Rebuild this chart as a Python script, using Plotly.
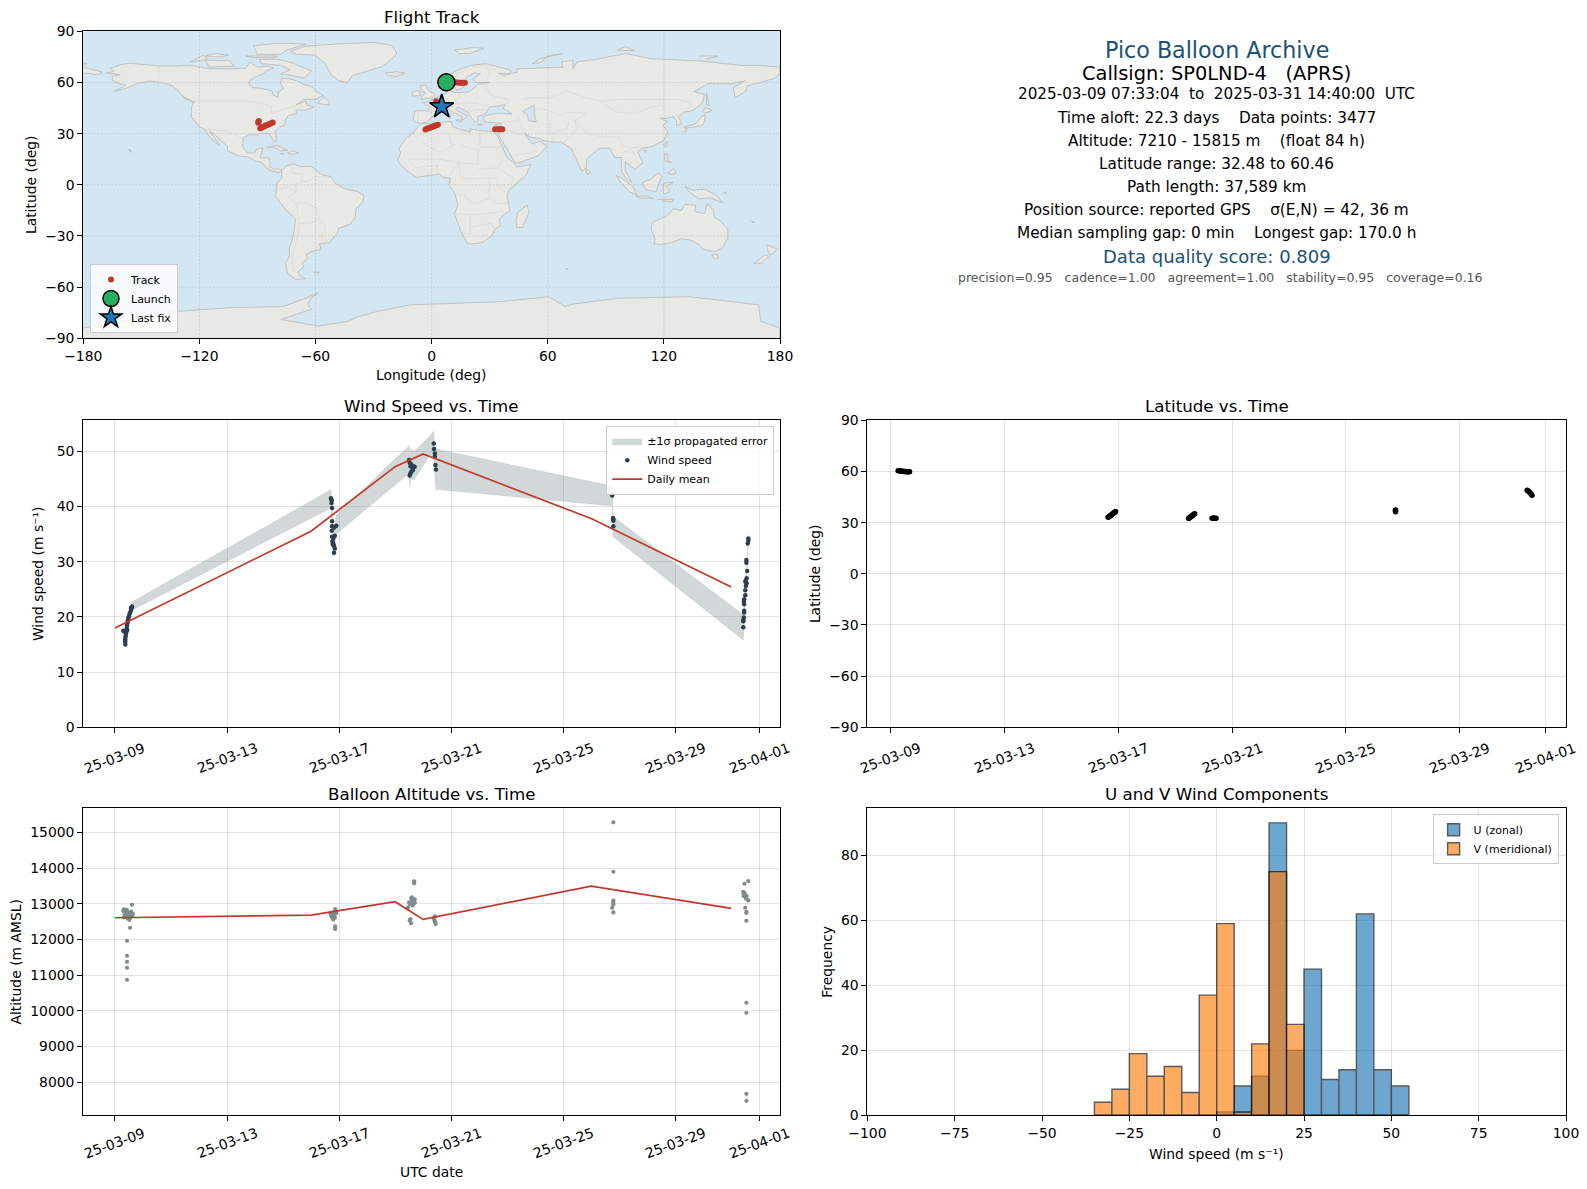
import pandas as pd
import plotly.graph_objects as go

# window size, the page body keeps its default 8px margin
W, H = 1587, 1189
PAGE_MARGIN = 8
FIG_W, FIG_H = W - PAGE_MARGIN, H - 2 * PAGE_MARGIN
FONT = "DejaVu Sans"
T0 = pd.Timestamp("2025-03-09")

# --- text panel: text, font size, colour, page y, x shift from the column centre ---
header_lines = [
    ("Pico Balloon Archive", 22.2, "#1a5276", 50, 0),
    ("Callsign: SP0LND-4   (APRS)", 19.4, "black", 73.3, 0),
    ("2025-03-09 07:33:04  to  2025-03-31 14:40:00  UTC", 15.2, "black", 94, 0),
    ("Time aloft: 22.3 days    Data points: 3477", 15.3, "black", 117.8, 0),
    ("Altitude: 7210 - 15815 m    (float 84 h)", 15.3, "black", 140.8, 0),
    ("Latitude range: 32.48 to 60.46", 15.3, "black", 163.8, 0),
    ("Path length: 37,589 km", 15.3, "black", 186.8, 0),
    ("Position source: reported GPS    σ(E,N) = 42, 36 m", 15.3, "black", 209.8, 0),
    ("Median sampling gap: 0 min    Longest gap: 170.0 h", 15.3, "black", 232.8, 0),
    ("Data quality score: 0.809", 18, "#1a5276", 256.7, 0),
    ("precision=0.95   cadence=1.00   agreement=1.00   stability=0.95   coverage=0.16", 12.5, "#555555", 278, 4),
]

# --- track, day offsets from 2025-03-09 00:00 UTC ---
track_days = [0.28, 0.32, 0.36, 0.40, 0.44, 0.48, 0.52, 0.56, 0.60, 0.64, 0.68,
              7.65, 7.68, 7.70, 7.73, 7.75, 7.78, 7.80, 7.83, 7.86, 7.88, 7.91,
              10.48, 10.50, 10.53, 10.55, 10.58, 10.60, 10.63, 10.66, 10.69,
              11.30, 11.33, 11.36, 11.40, 11.44,
              17.74, 17.74, 17.74,
              22.36, 22.40, 22.44, 22.47, 22.50, 22.53]
track_lat = [60.46, 60.4, 60.3, 60.2, 60.1, 60.0, 59.95, 59.9, 59.9, 59.85, 59.85,
             33.2, 33.5, 33.8, 34.1, 34.4, 34.7, 35.0, 35.4, 35.8, 36.1, 36.5,
             32.48, 32.8, 33.1, 33.4, 33.8, 34.1, 34.5, 34.9, 35.2,
             32.5, 32.55, 32.55, 32.5, 32.5,
             36.4, 36.9, 37.4,
             49.0, 48.5, 48.0, 47.4, 46.8, 46.0]
track_lon = [7.6, 8.5, 9.5, 10.5, 11.5, 12.5, 13.5, 14.5, 15.5, 16.4, 17.2,
             -88.6, -88.0, -87.5, -87.0, -86.3, -85.7, -85.0, -84.3, -83.5, -82.8, -82.1,
             -3.2, -2.5, -1.7, -1.0, -0.2, 0.6, 1.4, 2.3, 3.2,
             32.8, 33.7, 34.7, 35.6, 36.5,
             -89.6, -89.5, -89.3,
             2.3, 2.7, 3.2, 3.8, 4.5, 5.2]
launch_lon, launch_lat = [7.6], [60.1]
last_lon, last_lat = [5.2], [45.8]

# --- wind speed ---
wind_days = [0.37, 0.37, 0.37, 0.36, 0.38, 0.39, 0.30, 0.33, 0.36, 0.41, 0.44, 0.42, 0.43, 0.45,
             0.46, 0.48, 0.50, 0.52, 0.55, 0.58, 0.60, 0.61, 0.57,
             7.71, 7.74, 7.73, 7.75, 7.75, 7.90, 7.75, 7.83, 7.74, 7.85, 7.75, 7.79, 7.76, 7.79, 7.82, 7.78, 7.85, 7.82,
             10.50, 10.52, 10.58, 10.64, 10.70, 10.64, 10.58, 10.55, 10.52, 10.62, 10.55,
             11.38, 11.39, 11.42, 11.42, 11.44, 11.46,
             17.75, 17.79, 17.79, 17.79, 17.78,
             22.61, 22.61, 22.59, 22.54, 22.54, 22.57, 22.55, 22.52, 22.50, 22.55, 22.52, 22.50, 22.50, 22.46,
             22.45, 22.46, 22.46, 22.46, 22.45, 22.43, 22.43, 22.43]
wind_speed = [15.0, 15.5, 16.0, 15.8, 16.5, 16.9, 17.5, 17.4, 17.3, 17.3, 17.6, 18.0, 18.5, 19.0,
              19.4, 19.8, 20.1, 20.5, 20.9, 21.3, 21.7, 21.9, 21.6,
              41.5, 41.1, 40.6, 39.7, 37.3, 36.5, 36.4, 36.2, 35.6, 34.7, 34.5, 34.2, 33.6, 33.3, 32.9, 33.1, 32.4, 31.6,
              48.4, 47.9, 47.6, 47.3, 47.2, 46.6, 46.3, 46.0, 45.6, 47.0, 47.3,
              51.4, 50.4, 49.6, 49.0, 47.5, 46.7,
              42.0, 37.7, 37.4, 36.4, 37.9,
              34.2, 33.8, 33.3, 30.3, 29.8, 28.3, 27.0, 26.5, 26.4, 26.1, 25.6, 24.8, 23.9, 23.2,
              22.8, 22.3, 21.1, 20.8, 19.9, 19.4, 19.2, 18.1]
band_days = [0.37, 0.45, 0.60, 7.71, 7.76, 7.80, 7.84, 7.90, 10.50, 10.53, 10.56, 10.68, 11.24, 11.38, 11.42, 11.45,
             17.76, 17.78, 22.43, 22.47, 22.55, 22.62]
band_upper = [16.0, 19.5, 22.7, 43.0, 40.0, 34.0, 36.0, 38.5, 51.0, 49.0, 50.5, 50.0, 52.7, 53.6, 51.0, 50.4,
              43.7, 38.2, 20.4, 22.0, 29.0, 34.8]
band_lower = [14.3, 17.5, 21.2, 39.7, 37.0, 31.0, 31.5, 35.0, 46.0, 43.4, 45.0, 44.8, 49.3, 49.0, 46.0, 43.1,
              40.1, 34.5, 15.8, 20.0, 27.0, 33.0]
mean_days = [0, 7, 10, 11, 17, 22]
wind_mean = [18.0, 35.5, 47.2, 49.5, 37.8, 25.4]

# --- altitude ---
alt_days = [0.61, 0.54, 0.43, 0.43, 0.43, 0.43, 0.43,
            0.32, 0.38, 0.35, 0.43, 0.46, 0.52, 0.60, 0.64, 0.35, 0.40, 0.50, 0.55, 0.46, 0.52, 0.32, 0.58,
            0.30, 0.34, 0.37, 0.41, 0.44, 0.48, 0.50, 0.54, 0.57, 0.62, 0.39, 0.43, 0.47, 0.36, 0.42,
            7.86, 7.88, 7.79, 7.73, 7.69, 7.81, 7.85, 7.76, 7.90, 7.79, 7.86, 7.86,
            7.72, 7.75, 7.78, 7.83,
            10.68, 10.68, 10.58, 10.64, 10.70, 10.52, 10.46, 10.62, 10.70, 10.50, 10.55, 10.52, 10.57,
            10.60, 10.66, 10.56, 10.64, 10.61, 10.68,
            11.42, 11.38, 11.41, 11.45, 11.43, 11.40,
            17.79, 17.79, 17.79, 17.79, 17.79, 17.75, 17.79,
            22.61, 22.47, 22.43, 22.45, 22.49, 22.55, 22.52, 22.61, 22.47, 22.50, 22.54, 22.50, 22.54,
            22.44, 22.46, 22.48, 22.51, 22.53, 22.44,
            22.54, 22.54, 22.54, 22.54, 22.54]
altitude = [12972, 12328, 11964, 11544, 11375, 11207, 10871,
            12842, 12823, 12777, 12796, 12750, 12730, 12702, 12720, 12702, 12684, 12600, 12605, 12580, 12550, 12620, 12777,
            12800, 12760, 12740, 12720, 12690, 12670, 12740, 12680, 12640, 12660, 12650, 12620, 12640, 12810, 12830,
            12850, 12785, 12710, 12692, 12730, 12645, 12610, 12675, 12730, 12560, 12365, 12290,
            12660, 12620, 12760, 12700,
            13630, 13570, 13155, 13100, 13035, 12990, 12895, 12950, 13120, 13040, 12570, 12530, 12455,
            13180, 13060, 13000, 12970, 13090, 13010,
            12645, 12580, 12525, 12430, 12480, 12600,
            15278, 13896, 13090, 13035, 12980, 12888, 12757,
            13635, 13560, 13336, 13280, 13233, 13215, 13170, 13093, 13260, 13200, 12776, 12888, 12742,
            13310, 13250, 13290, 13190, 13140, 13220,
            12524, 10227, 9947, 7678, 7482]
alt_mean = [12608, 12683, 13056, 12561, 13495, 12869]

# --- histogram, 5 m/s bins ---
bin_left = [-35, -30, -25, -20, -15, -10, -5, 0, 5, 10, 15, 20, 25, 30, 35, 40, 45, 50]
u_counts = [0, 0, 0, 0, 0, 0, 0, 1, 9, 12, 90, 20, 45, 11, 14, 62, 14, 9]
v_counts = [4, 8, 19, 12, 15, 7, 37, 59, 1, 22, 75, 28, 0, 0, 0, 0, 0, 0]

# --- ticks ---
date_ticks = ["2025-03-09", "2025-03-13", "2025-03-17", "2025-03-21", "2025-03-25", "2025-03-29", "2025-04-01"]
date_labels = ["25-03-09", "25-03-13", "25-03-17", "25-03-21", "25-03-25", "25-03-29", "25-04-01"]
lon_ticks = [-180, -120, -60, 0, 60, 120, 180]
lat_ticks = [-90, -60, -30, 0, 30, 60, 90]
wind_ticks = [0, 10, 20, 30, 40, 50]
alt_ticks = [8000, 9000, 10000, 11000, 12000, 13000, 14000, 15000]
hist_ticks = [-100, -75, -50, -25, 0, 25, 50, 75, 100]
freq_ticks = [0, 20, 40, 60, 80]

# --- basemap outlines (lon, lat) ---
north_america = [(-168,65.6),(-164,66.5),(-166,68.3),(-161,70.3),(-156.5,71.3),(-150,70.5),(-141,69.7),(-135,69.5),(-128,70),(-124,69.8),(-115,68),(-108,68),(-102,68),(-96,68.3),(-94,72),(-90,69),(-85,69.5),(-81.5,68.5),(-86,66.5),(-87,65),(-91,63.5),(-94,61),(-94.5,59),(-92.5,57),(-88,56.5),(-82.5,55),(-82,52.8),(-79.5,51.3),(-79,54.5),(-76.5,56.5),(-78,59),(-77.5,62.5),(-73,62),(-69.5,61),(-66,58.8),(-62,57.5),(-60,55),(-56,52.5),(-60,50.2),(-66,50),(-70,47),(-65,49),(-64.5,47),(-61,45.5),(-65.5,43.7),(-70,43.8),(-70,41.7),(-74,40.6),(-75.5,38),(-76,35),(-78.5,33.8),(-81,31.5),(-80.2,27),(-80.3,25.3),(-81.8,26),(-82.8,28),(-84,30),(-88,30.3),(-90,29.2),(-94,29.5),(-97.3,27.5),(-97.7,22.5),(-95.5,18.8),(-91.5,18.6),(-90.5,21),(-87,21.5),(-88,17.5),(-88.7,15.8),(-84,15.8),(-83.5,12),(-83.7,10.5),(-81.5,9),(-79.5,9.5),(-77.5,8.7),(-77.5,7.5),(-80,7.3),(-83,8.2),(-85.7,10),(-87.5,13),(-91.5,14),(-94.5,16.2),(-100,17),(-105.5,20),(-105.5,22.5),(-109,26),(-112.7,30),(-114.7,31.5),(-112.2,27.5),(-109.5,23),(-112,25),(-115,28.5),(-117.2,32.5),(-120.5,34.5),(-122.5,37.5),(-124.3,40.3),(-124,46),(-122.7,48.5),(-127.5,51),(-130.5,54.5),(-134,58),(-140,60),(-146,60.8),(-152,59.3),(-158,56.5),(-164,54.8),(-158,58.5),(-162,59.5),(-165,61.5),(-165,63.5),(-161,64.5),(-168,65.6)]
greenland = [(-73,78.3),(-65,81.3),(-50,82.5),(-30,83.5),(-20,81.5),(-18,76.5),(-22,72.5),(-25,69.5),(-35,66),(-41,64),(-43.5,60),(-48,61),(-52,64.5),(-53.5,68),(-55,71),(-60,76),(-70,76.5),(-73,78.3)]
south_america = [(-77.5,8.5),(-75,11),(-71.5,12.4),(-68,10.7),(-62,10.7),(-57,6),(-52,4.8),(-50,1),(-44.5,-2.5),(-38,-4),(-35,-6.5),(-35.5,-10),(-39,-14),(-39.5,-19),(-42,-23),(-48,-25.5),(-48.7,-28.5),(-53,-34),(-58,-34.5),(-57,-38),(-62,-39),(-65,-41),(-64,-43),(-67,-46),(-66,-48),(-69,-51),(-68.5,-53),(-65,-55),(-70,-55.5),(-74.5,-52),(-75.5,-46),(-73.5,-42),(-73.5,-37),(-71.5,-30),(-70.3,-20),(-76,-14),(-81,-6),(-80,-2.5),(-80,1),(-77.5,4),(-77.5,8.5)]
africa = [(-5.8,35.8),(0,35.8),(10,37.3),(11,34),(15,32.3),(20,31),(20,32.8),(25,31.7),(32,31.2),(34.3,28),(37,21),(39,16),(43.3,12),(44,10.5),(51.2,11.8),(49,6),(44,1),(40,-3),(39,-7),(40.5,-15),(35,-20),(35.5,-24),(32.8,-26),(31,-30),(26,-34),(20,-34.8),(18.3,-34),(15,-27),(11.8,-17),(13.5,-12),(12,-5),(9,-0.5),(9.7,3.8),(6,4.3),(4,6.3),(-4,5),(-8,4.4),(-13,8.5),(-16.7,12.5),(-17.4,14.7),(-16,19),(-17,21),(-13,27.7),(-9.8,30),(-6.8,34),(-5.8,35.8)]
eurasia = [(-9,37),(-9.5,38.8),(-8.8,43.3),(-1.7,43.4),(-1.2,46),(-4.7,48.3),(-1.5,48.7),(1.5,50.5),(4,52),(8,54),(8.3,57),(10.5,57.5),(10,54.5),(14,54),(19,54.5),(21,56),(24,58.8),(30,60),(23,60),(21.3,62),(25.2,65),(22,65.7),(17.5,62.5),(18,60),(16.5,57),(13,55.5),(11,59),(7,58),(5,60),(5.5,62),(13,67),(20,70),(28,71),(41,67.2),(40,65),(34.5,65.5),(37,64),(44,66),(44,68),(54,68.5),(60,69),(68,69),(67,72),(73,73),(73,68),(75,72),(87,74),(100,77),(113,74),(127,73.3),(140,72.5),(160,70),(170,70),(180,69),(180,65),(177,62.5),(170,60),(163,58),(162.5,55),(156.8,51),(155.8,57),(162,61),(155,59.3),(143,59.3),(135.5,54.7),(141,53),(140,48),(135,43.5),(130,42.5),(127.5,39.8),(129.3,36),(126.5,34.5),(126.5,37.5),(125,40),(121.5,39),(118,39),(122,37),(119.5,35),(122,31),(120,26),(114,22.5),(109,21.5),(106.5,19.5),(109,13),(105,9),(100,13.5),(100,8),(103.5,1.5),(101,3),(98,8),(98,16),(94.5,16),(92,21.5),(87,21.5),(80.3,15.5),(79.8,10),(77.5,8),(73,19),(72.5,21),(67,25),(61.5,25.2),(57,26),(56.5,27),(51,28),(48,30),(51,25),(52,24),(56,25.5),(59.5,22.5),(55,17),(45,12.8),(43,13),(39,21),(35,28),(34.5,31.5),(36,36),(32,36.2),(27.5,36.8),(26.5,39.5),(29,41),(35,42),(41.5,41.5),(37,45),(38,47),(33.5,46),(30,45.5),(28,42),(26,40.7),(23.5,40),(24,37.8),(22.5,36.5),(19.5,41),(19,42.5),(13.5,45.5),(12.5,44),(18.5,40.2),(16,38),(15.8,40),(10.5,43),(8.5,44.3),(3,43),(3,41.8),(-0.3,39.5),(-2,36.8),(-5.5,36),(-9,37)]
chukotka = [(-180,69),(-175,67.5),(-170,66),(-173,64.5),(-178,65.5),(-180,65)]
australia = [(114,-22),(113.5,-26),(115.5,-32),(115,-34.5),(118,-35),(123.5,-34),(129,-31.7),(134,-32.5),(138,-35),(140.5,-38),(146,-39),(150,-37.5),(153,-31),(153,-26),(149,-21),(146,-19),(145.5,-15),(142.5,-10.8),(141,-17),(136,-15.5),(136.5,-12),(131,-11.5),(129,-15),(125,-14),(122,-18),(114,-22)]
antarctica = [(-180,-84),(-158,-80),(-148,-76.5),(-134,-74.4),(-103,-72),(-77,-71.4),(-66,-67),(-58.5,-63.2),(-62,-66),(-64,-70),(-62,-73),(-78,-79),(-58.5,-82.8),(-43,-80),(-38,-77.3),(-27,-74),(-11,-70.4),(12,-69.5),(36,-68.5),(60.5,-65.6),(69,-71.4),(72.5,-70),(96.5,-66.5),(133,-65.6),(169,-70.4),(170,-80),(180,-84),(180,-90),(-180,-90)]
islands = [
    [(-80,73.7),(-72,71.5),(-68,69.5),(-62,66.8),(-66,62.5),(-72,64),(-78,65),(-73,67.5),(-78,70),(-88,71),(-89,73.5),(-80,73.7)],
    [(-90,76.5),(-78,76.5),(-75,79),(-65,82.5),(-80,83),(-92,81.5),(-90,76.5)],
    [(-117,73),(-105,73),(-102,69.5),(-115,69),(-117,73)],
    [(-125,72),(-118,76),(-116,73.5),(-125,72)],
    [(-96,75.5),(-80,75.5),(-82,74.5),(-92,74.5),(-96,75.5)],
    [(-112,77),(-105,76),(-110,75),(-117,75.5),(-112,77)],
    [(-59,47.7),(-53,46.8),(-53,49),(-56,51.5),(-59,47.7)],
    [(-128,50.8),(-125,50),(-123.5,48.5),(-128,50.8)],
    [(-85,22),(-80,23),(-74.3,20.2),(-78,19.9),(-82,22.3),(-85,22)],
    [(-74.5,18.5),(-72,20),(-68.5,18.6),(-71.5,17.8),(-74.5,18.5)],
    [(-78.3,18.4),(-76.3,18.2),(-77,17.8)],
    [(-156.5,21),(-155,19.7),(-155.8,19),(-156.5,21)],
    [(-61,-51.3),(-58,-51.3),(-59,-52.2)],
    [(-24,65.5),(-18,66.3),(-14,65.5),(-18,63.5),(-22.5,64),(-24,65.5)],
    [(-5.5,50),(1.3,51.2),(1.7,52.8),(-2,55.8),(-3,58.6),(-6,58),(-5,55),(-3,54),(-5,52),(-5.5,50)],
    [(-10,52),(-6,52.2),(-6,55),(-8.5,55.2),(-10,54),(-10,52)],
    [(12,79),(22,80.5),(27,80),(20,77),(14,77),(12,79)],
    [(52,71),(56,74),(68,77),(60,75.5),(56,71.5),(52,71)],
    [(96,79),(105,78.5),(100,81),(96,79)],
    [(138,75.5),(148,75.5),(142,73.8)],
    [(12.5,38),(15.5,38),(15,36.7),(12.5,38)],
    [(8.3,41),(9.7,41),(9.6,39),(8.5,39)],
    [(23.5,35.5),(26.2,35.3),(24.5,35)],
    [(32.4,35),(34.5,35.6),(33.5,34.6)],
    [(49.3,-12),(50.4,-16),(47,-25),(44,-25),(43.5,-21),(44.5,-16),(49.3,-12)],
    [(80,9.5),(82,7.5),(80.5,6),(79.8,8),(80,9.5)],
    [(130.8,34),(136,35.5),(140,40.5),(141.5,41),(141,37.5),(140,35),(136,34),(132,33.5),(130.8,34)],
    [(130,33.5),(132,33),(131,31),(130,31.5)],
    [(140,43),(141.5,45.5),(145,43.5),(141,42),(140,43)],
    [(142,54),(143,50),(143.5,46.5),(142,47),(142,54)],
    [(121,25),(122,25),(121,22),(120,23),(121,25)],
    [(109,20),(111,20),(110,18.3)],
    [(95.3,5.5),(98,4),(104,-1),(106,-5.8),(102,-4),(98,1),(95.3,5.5)],
    [(105.5,-6.5),(111,-6.5),(114.5,-8),(108,-7.8),(105.5,-6.5)],
    [(109,1.5),(113,3),(117,7),(119,5),(117.5,1),(116,-4),(111,-3),(109,0),(109,1.5)],
    [(120,1),(125,1.5),(121,-1),(123,-4),(120,-5.5),(119.5,-3),(120,1)],
    [(131,-1),(135,-3.2),(141,-2.6),(147,-6),(150.5,-10.5),(144,-7.7),(138,-8.3),(133,-4),(131,-1)],
    [(120.5,18.5),(122,18),(122,14),(124,13),(120.5,14),(120.5,18.5)],
    [(122,7),(125,9.5),(126.5,7),(124,6),(122,7)],
    [(117,-8.5),(125,-8.5),(124,-10),(119,-9.5)],
    [(144.7,-41),(148,-41),(148,-43),(146,-43.5),(144.7,-41)],
    [(173,-35),(178.5,-37.7),(175,-41.5),(174,-39.3),(173,-35)],
    [(172.5,-41),(174,-42),(170.5,-46),(166.5,-46),(172.5,-41)],
    [(150,-5.5),(152,-4.2),(152,-6)],
    [(165,-21),(167,-22.3),(165.5,-21.8)],
    [(-180,71.5),(-178,71),(-180,70.8)],
    [(69,-49),(70.5,-49.2),(69.5,-49.8)],
]
caspian_sea = [(50,45),(53,46.5),(53,42),(54,37),(50,37.5),(49.5,41),(47,43),(50,45)]
country_borders = [
    [(-123,49),(-95,49),(-89,48),(-83,46),(-82.5,42),(-79,43),(-75,45),(-70,46),(-67,47),(-67,45)],
    [(-141,69.7),(-141,60),(-135,59),(-130,55)],
    [(-117,32.5),(-106.5,31.8),(-101,29.5),(-97.3,26)],
    [(-92,14.5),(-91,17.5),(-89,17.8)],
    [(-51.5,4),(-60,5),(-64,2),(-70,1),(-70,-4),(-74,-7.5),(-70,-11),(-65,-10),(-60,-13.5),(-58,-20),(-54.5,-25.5),(-57.5,-30),(-53.5,-33.5)],
    [(-69,-18),(-68,-23),(-70,-33),(-72,-42),(-72,-50),(-68.5,-52.5)],
    [(-70,-11),(-69,-18)], [(-68,-23),(-62,-22),(-58,-20)],
    [(-80.3,-3.5),(-75,-1),(-70,-4)], [(-72,12),(-72,7),(-67,6),(-67,2)],
    [(-2,35),(-2,32),(-8.7,28),(-13,27.7)], [(9,30),(10,24),(12,23.5)],
    [(25,31.7),(25,22)], [(25,22),(37,22)], [(25,20),(15,23)], [(-5,25),(4,19),(12,23.5)],
    [(-12,15),(-5,15),(4,15),(14,13),(24,12),(24,20)], [(3,6.5),(3,12)], [(14,13),(9,4.5)],
    [(24,9),(34,10),(37,15)], [(34,10),(42,4),(41,-1.5)], [(34,4),(34,-1),(39,-4.7)],
    [(12.5,-5.5),(16,-6),(22,-11),(30,-8),(34,-11),(40.5,-10.7)], [(12,-17),(24,-17.5),(34,-16)],
    [(20,-17.5),(20,-28.5),(16.5,-28.5)], [(20,-25),(31,-22.5),(32.5,-26.5)],
    [(14,13),(15,5),(18,3.5),(30,4),(34,4)], [(30,4),(29.5,-4.5),(30,-8)],
    [(-8,10),(-3,11),(3,11),(-3,5.5)], [(-8,10),(-12,15)],
    [(28,60),(28,56),(32,52),(40,50),(39,47.5)],
    [(47,50),(50,51),(61,51),(70,55),(80,51),(87,49),(98,50),(107,50),(117,50),(127,50),(135,48),(131,43)],
    [(87,49),(96,42.5),(105,41.7),(112,45),(119,47),(117,50)],
    [(52,42),(56,45),(66,41),(71,42.5),(80,42)],
    [(80,42),(74,38),(78,33),(81,30),(88,28),(97,28),(98,24),(102,21.5),(107,22)],
    [(74,38),(75,32),(70,27),(68,23.8)], [(44.5,39.5),(46,35),(48,30)],
    [(61,36.5),(61,30),(63,26)], [(71,37),(70,33),(61,29.5)],
    [(36,36.5),(44.5,37.5),(44.5,39.5)], [(35,29.5),(39,32),(47,29)],
    [(43,17),(52,19),(55,22),(52,24)], [(98,16),(100,20),(105,18),(105,14),(102,12)], [(102,21.5),(105,18)],
    [(2.5,51),(6,49.5),(8,49),(7.5,47.5),(6.5,44.5)], [(14,54),(15,51),(12,50),(13,48)],
    [(-1.7,43.4),(3,42.5)], [(-7,42),(-7,37)], [(23,54),(24,51),(22,49)], [(22,48),(30,46)],
    [(12,60),(13,65),(20,69),(28,70)], [(28,70),(30,65),(28,60.5)], [(7.5,47.5),(13,47.5),(17,48),(22,48)],
    [(19,42.5),(23,44),(28,44)],
]


def days_to_time(days):
    return [T0 + pd.to_timedelta(d, unit="D") for d in days]


# page pixels to paper fractions
def px(x):
    return (x - PAGE_MARGIN) / FIG_W


def py(y):
    return 1 - (y - PAGE_MARGIN) / FIG_H


def closed_paths(paths):
    lons, lats = [], []
    for path in paths:
        lons += [p[0] for p in path] + [None]
        lats += [p[1] for p in path] + [None]
    return lons, lats


def axis_style(**kw):
    style = dict(showline=True, linecolor="black", linewidth=1.1, mirror=True, ticks="outside", ticklen=5,
                 tickwidth=1.1, tickcolor="black", showgrid=True, gridcolor="rgba(176,176,176,0.36)", gridwidth=1.1,
                 zeroline=False, tickfont=dict(size=13.9, color="black"), layer="above traces", automargin=False)
    style.update(kw)
    return style


def y_title(text, standoff=5):
    return dict(text=text, font=dict(size=13.9, color="black"), standoff=standoff)


LEFT = (83.3, 780)
RIGHT = (867.4, 1566)
ROW1 = (31.3, 338.3)
ROW2 = (420.3, 727.3)
ROW3 = (808.3, 1115.3)


def col_domain(col):
    return [px(col[0]), px(col[1])]


def row_domain(row):
    return [py(row[1]), py(row[0])]


fig = go.Figure()

# flight track map
land_lon, land_lat = closed_paths([north_america, greenland, south_america, africa, eurasia, chukotka, australia,
                                   antarctica] + islands)
fig.add_trace(go.Scatter(x=land_lon, y=land_lat, mode="lines", fill="toself", fillcolor="#e8e8e4",
                         line=dict(color="#bdbdbb", width=0.9), showlegend=False, hoverinfo="skip",
                         xaxis="x", yaxis="y"))
sea_lon, sea_lat = closed_paths([caspian_sea])
fig.add_trace(go.Scatter(x=sea_lon, y=sea_lat, mode="lines", fill="toself", fillcolor="#d4e6f1",
                         line=dict(color="#bdbdbb", width=0.9), showlegend=False, hoverinfo="skip",
                         xaxis="x", yaxis="y"))
border_lon, border_lat = closed_paths(country_borders)
fig.add_trace(go.Scatter(x=border_lon, y=border_lat, mode="lines", line=dict(color="#d8d8d4", width=0.7),
                         showlegend=False, hoverinfo="skip", xaxis="x", yaxis="y"))
# graticule has to sit on top of the land
grat_lon, grat_lat = [], []
for lon in lon_ticks[1:-1]:
    grat_lon += [lon, lon, None]
    grat_lat += [-90, 90, None]
for lat in lat_ticks[1:-1]:
    grat_lon += [-180, 180, None]
    grat_lat += [lat, lat, None]
fig.add_trace(go.Scatter(x=grat_lon, y=grat_lat, mode="lines", line=dict(color="rgba(130,130,130,0.32)", width=0.7, dash="2px,1.5px"),
                         showlegend=False, hoverinfo="skip", xaxis="x", yaxis="y"))
fig.add_trace(go.Scatter(x=track_lon, y=track_lat, mode="markers", name="Track", legend="legend",
                         marker=dict(color="#c0392b", size=6), xaxis="x", yaxis="y"))
fig.add_trace(go.Scatter(x=launch_lon, y=launch_lat, mode="markers", name="Launch", legend="legend",
                         marker=dict(color="#27ae60", size=17, line=dict(color="black", width=1.5)),
                         xaxis="x", yaxis="y"))
fig.add_trace(go.Scatter(x=last_lon, y=last_lat, mode="markers", name="Last fix", legend="legend",
                         marker=dict(color="#1f77b4", symbol="star", size=18, line=dict(color="black", width=1.5)),
                         xaxis="x", yaxis="y"))

# wind speed
fig.add_trace(go.Scatter(x=days_to_time(band_days + band_days[::-1]), y=band_upper + band_lower[::-1], mode="lines",
                         fill="toself", fillcolor="rgba(127,140,141,0.35)", line=dict(color="rgba(127,140,141,0.2)", width=0.8),
                         name="±1σ propagated error", legend="legend2", xaxis="x2", yaxis="y2"))
fig.add_trace(go.Scatter(x=days_to_time(wind_days), y=wind_speed, mode="markers", name="Wind speed", legend="legend2",
                         marker=dict(color="#2c3e50", size=4.5), xaxis="x2", yaxis="y2"))
fig.add_trace(go.Scatter(x=days_to_time(mean_days), y=wind_mean, mode="lines", name="Daily mean", legend="legend2",
                         line=dict(color="#c0392b", width=1.7), xaxis="x2", yaxis="y2"))

# latitude
fig.add_trace(go.Scatter(x=days_to_time(track_days), y=track_lat, mode="markers", showlegend=False,
                         marker=dict(color="black", size=5.5), xaxis="x3", yaxis="y3"))

# altitude
fig.add_trace(go.Scatter(x=days_to_time(alt_days), y=altitude, mode="markers", showlegend=False,
                         marker=dict(color="#7f8c8d", size=4.2), xaxis="x4", yaxis="y4"))
fig.add_trace(go.Scatter(x=days_to_time(mean_days), y=alt_mean, mode="lines", showlegend=False,
                         line=dict(color="#c0392b", width=1.7), xaxis="x4", yaxis="y4"))

# U / V histogram
bin_centers = [b + 2.5 for b in bin_left]
fig.add_trace(go.Bar(x=bin_centers, y=u_counts, width=5, name="U (zonal)", legend="legend3", opacity=0.65,
                     marker=dict(color="#1f77b4", line=dict(color="black", width=1.4)), xaxis="x5", yaxis="y5"))
fig.add_trace(go.Bar(x=bin_centers, y=v_counts, width=5, name="V (meridional)", legend="legend3", opacity=0.65,
                     marker=dict(color="#ff7f0e", line=dict(color="black", width=1.4)), xaxis="x5", yaxis="y5"))

# matplotlib-style date labels are centred under the tick, plotly would end-anchor them
annotations = []
for xref, label_y in (("x2", ROW2[1] + 31), ("x3", ROW2[1] + 31), ("x4", ROW3[1] + 28)):
    for tick, label in zip(date_ticks, date_labels):
        annotations.append(dict(x=tick, xref=xref, y=py(label_y), yref="paper", text=label, textangle=-20,
                                showarrow=False, xanchor="center", yanchor="middle",
                                font=dict(size=13.9, color="black")))

panel_titles = [("Flight Track", LEFT, ROW1), ("Wind Speed vs. Time", LEFT, ROW2), ("Latitude vs. Time", RIGHT, ROW2),
                ("Balloon Altitude vs. Time", LEFT, ROW3), ("U and V Wind Components", RIGHT, ROW3)]
for text, col, row in panel_titles:
    annotations.append(dict(x=px(sum(col) / 2), xref="paper", y=py(row[0] - 14), yref="paper", text=text,
                            showarrow=False, xanchor="center", yanchor="middle", font=dict(size=16.67, color="black")))
x_titles = [("Longitude (deg)", LEFT, 374.5), ("UTC date", LEFT, 1172), ("Wind speed (m s⁻¹)", RIGHT, 1154)]
for text, col, y_px in x_titles:
    annotations.append(dict(x=px(sum(col) / 2), xref="paper", y=py(y_px), yref="paper", text=text,
                            showarrow=False, xanchor="center", yanchor="middle", font=dict(size=13.9, color="black")))
for text, size, color, y_px, shift in header_lines:
    annotations.append(dict(x=px(sum(RIGHT) / 2 + shift), xref="paper", y=py(y_px), yref="paper", text=text,
                            showarrow=False, xanchor="center", yanchor="middle", font=dict(size=size, color=color)))

left_range = days_to_time([-1.13, 23.74])
right_range = days_to_time([-0.80, 23.725])

legend_box = dict(bgcolor="rgba(255,255,255,0.8)", bordercolor="#cccccc", borderwidth=1, font=dict(size=11, color="black"),
                  xref="paper", yref="paper", itemwidth=30)

fig.update_layout(
    width=FIG_W, height=FIG_H, autosize=False, margin=dict(l=0, r=0, t=0, b=0, autoexpand=False), paper_bgcolor="white",
    plot_bgcolor="white", font=dict(family=FONT, color="black"), barmode="overlay", annotations=annotations,
    xaxis=axis_style(domain=col_domain(LEFT), anchor="y", range=[-180, 180], tickvals=lon_ticks, showgrid=False),
    yaxis=axis_style(domain=row_domain(ROW1), anchor="x", range=[-90, 90], tickvals=lat_ticks, showgrid=False,
                     title=y_title("Latitude (deg)")),
    xaxis2=axis_style(domain=col_domain(LEFT), anchor="y2", type="date", range=left_range, tickvals=date_ticks,
                      showticklabels=False),
    yaxis2=axis_style(domain=row_domain(ROW2), anchor="x2", range=[0, 55.6], tickvals=wind_ticks,
                      title=y_title("Wind speed (m s⁻¹)", standoff=9)),
    xaxis3=axis_style(domain=col_domain(RIGHT), anchor="y3", type="date", range=right_range, tickvals=date_ticks,
                      showticklabels=False),
    yaxis3=axis_style(domain=row_domain(ROW2), anchor="x3", range=[-90, 90], tickvals=lat_ticks,
                      title=y_title("Latitude (deg)")),
    xaxis4=axis_style(domain=col_domain(LEFT), anchor="y4", type="date", range=left_range, tickvals=date_ticks,
                      showticklabels=False),
    yaxis4=axis_style(domain=row_domain(ROW3), anchor="x4", range=[7076, 15672], tickvals=alt_ticks,
                      tickformat="d", title=y_title("Altitude (m AMSL)")),
    xaxis5=axis_style(domain=col_domain(RIGHT), anchor="y5", range=[-100, 100], tickvals=hist_ticks),
    yaxis5=axis_style(domain=row_domain(ROW3), anchor="x5", range=[0, 94.5], tickvals=freq_ticks,
                      title=y_title("Frequency")),
    legend=dict(x=px(90), y=py(333), xanchor="left", yanchor="bottom", **legend_box),
    legend2=dict(x=px(774.3), y=py(425.7), xanchor="right", yanchor="top", **legend_box),
    legend3=dict(x=px(1558.6), y=py(814.3), xanchor="right", yanchor="top", **legend_box),
)
# ocean colour only on the map panel
fig.add_shape(type="rect", xref="x domain", yref="y domain", x0=0, x1=1, y0=0, y1=1, fillcolor="#d4e6f1",
              line=dict(width=0), layer="below")

fig.write_html("out.html")
